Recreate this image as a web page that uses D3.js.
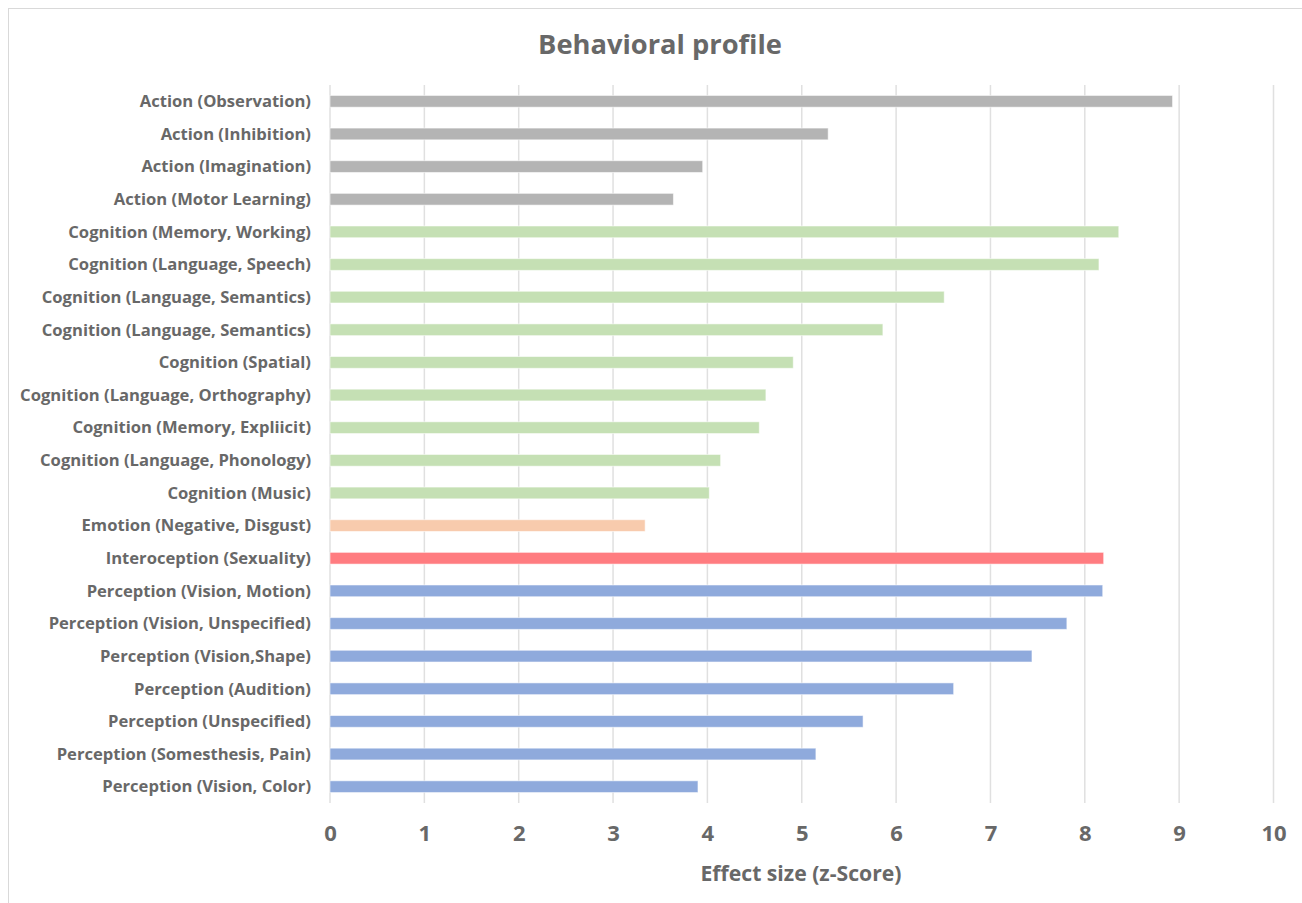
<!DOCTYPE html>
<html>
<head>
<meta charset="utf-8">
<script src="https://cdn.jsdelivr.net/npm/d3@7"></script>
<style>
  html, body { margin: 0; padding: 0; background: #fff; }
  svg { display: block; }
  text { font-family: "Open Sans", Lato, sans-serif; font-weight: 700; fill: #686868; }
</style>
</head>
<body>
<svg id="chart" width="1302" height="903"></svg>
<script>
// Behavioral domains, top to bottom
const categories = [
  "Action (Observation)",
  "Action (Inhibition)",
  "Action (Imagination)",
  "Action (Motor Learning)",
  "Cognition (Memory, Working)",
  "Cognition (Language, Speech)",
  "Cognition (Language, Semantics)",
  "Cognition (Language, Semantics) ",
  "Cognition (Spatial)",
  "Cognition (Language, Orthography)",
  "Cognition (Memory, Expliicit)",
  "Cognition (Language, Phonology)",
  "Cognition (Music)",
  "Emotion (Negative, Disgust)",
  "Interoception (Sexuality)",
  "Perception (Vision, Motion)",
  "Perception (Vision, Unspecified)",
  "Perception (Vision,Shape)",
  "Perception (Audition)",
  "Perception (Unspecified)",
  "Perception (Somesthesis, Pain)",
  "Perception (Vision, Color)"
];

// Effect size (z-score) per domain
const zScores = [
  8.93, 5.28, 3.95, 3.64,
  8.36, 8.15, 6.51, 5.86, 4.91, 4.62, 4.55, 4.14, 4.02,
  3.34,
  8.20,
  8.19, 7.81, 7.44, 6.61, 5.65, 5.15, 3.90
];

// Domain group of each bar
const groups = [
  "Action", "Action", "Action", "Action",
  "Cognition", "Cognition", "Cognition", "Cognition", "Cognition",
  "Cognition", "Cognition", "Cognition", "Cognition",
  "Emotion",
  "Interoception",
  "Perception", "Perception", "Perception", "Perception",
  "Perception", "Perception", "Perception"
];

const groupNames = ["Action", "Cognition", "Emotion", "Interoception", "Perception"];
const groupColors = ["#b4b4b4", "#c5e0b4", "#f8cbad", "#ff7c80", "#8faadc"];

const xTicks = [0, 1, 2, 3, 4, 5, 6, 7, 8, 9, 10];

const titleText = "Behavioral profile";
const xTitleText = "Effect size (z-Score)";

const rows = categories.map((c, i) => ({ name: c, value: zScores[i], group: groups[i] }));

const svg = d3.select("#chart");
const W = 1302, H = 903;
const margin = { top: 85, right: 28, bottom: 100, left: 330 };

// Chart frame
svg.append("rect")
  .attr("x", 8.5).attr("y", 8.5)
  .attr("width", W).attr("height", H)
  .attr("fill", "none").attr("stroke", "#d9d9d9").attr("stroke-width", 1);

const x = d3.scaleLinear().domain([0, 10]).range([margin.left, 1273.5]);
const y = d3.scaleBand().domain(categories).range([margin.top, 803]).paddingInner(0.64).paddingOuter(0.32);
const color = d3.scaleOrdinal().domain(groupNames).range(groupColors);

// Vertical gridlines
svg.append("g")
  .selectAll("line")
  .data(xTicks)
  .join("line")
  .attr("x1", d => x(d)).attr("x2", d => x(d))
  .attr("y1", margin.top).attr("y2", 803)
  .attr("stroke", "#e0e0e0").attr("stroke-width", 1.5);

// Bars
svg.append("g")
  .selectAll("rect")
  .data(rows)
  .join("rect")
  .attr("x", x(0))
  .attr("y", d => y(d.name))
  .attr("width", d => x(d.value) - x(0))
  .attr("height", y.bandwidth())
  .attr("fill", d => color(d.group))
  .attr("stroke", "rgba(255,255,255,0.55)")
  .attr("stroke-width", 1);

// Category axis
const yAxis = svg.append("g")
  .attr("transform", `translate(${margin.left - 19},0)`)
  .call(d3.axisLeft(y).tickSize(0).tickPadding(0));
yAxis.select(".domain").remove();
yAxis.selectAll("text")
  .attr("font-size", 16.6)
  .attr("dy", "0.35em")
  .style("font-family", "'Open Sans', sans-serif")
  .style("font-weight", 700)
  .style("fill", "#686868");

// Value axis
const xAxis = svg.append("g")
  .attr("transform", `translate(0,803)`)
  .call(d3.axisBottom(x).tickValues(xTicks).tickSize(0).tickPadding(22).tickFormat(d3.format("d")));
xAxis.select(".domain").remove();
xAxis.selectAll("text")
  .attr("font-size", 22)
  .style("font-family", "'Open Sans', sans-serif")
  .style("font-weight", 700)
  .style("fill", "#686868");

// Titles
svg.append("text")
  .attr("x", 660).attr("y", 54)
  .attr("text-anchor", "middle")
  .attr("font-size", 27.3)
  .text(titleText);

svg.append("text")
  .attr("x", 801).attr("y", 881)
  .attr("text-anchor", "middle")
  .attr("font-size", 21.2)
  .text(xTitleText);
</script>
</body>
</html>
